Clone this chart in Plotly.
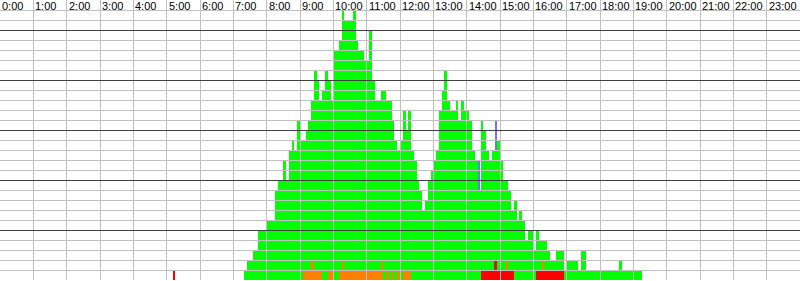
import plotly.graph_objects as go

# ---- data (counts per 5-minute bin) ----
BIN_MINUTES = 5
FIRST_BIN = "07:20"
total_counts = [
    1, 2, 2, 3, 3, 5, 5, 5,                       # 07:20 - 07:55
    6, 6, 6, 9, 10, 10, 12, 10, 13, 14, 13, 16,   # 08:00 - 08:55
    14, 14, 15, 16, 18, 21, 20, 18, 19, 21, 20, 18,  # 09
    23, 23, 24, 27, 26, 26, 26, 27, 24, 23, 23, 22,  # 10
    22, 25, 20, 18, 18, 19, 19, 18, 18, 16, 14, 13,  # 11
    14, 17, 15, 17, 13, 12, 10, 9, 7, 8, 10, 11,     # 12
    12, 13, 17, 19, 21, 18, 17, 17, 18, 16, 18, 17,  # 13
    17, 16, 13, 12, 12, 16, 15, 13, 12, 13, 16, 14,  # 14
    12, 10, 10, 9, 7, 8, 6, 7, 6, 4, 5, 5,           # 15
    3, 5, 4, 4, 4, 3, 2, 2, 3, 3, 3, 1,              # 16
    2, 2, 2, 2, 1, 3, 3, 1, 1, 1, 1, 1,              # 17
    1, 1, 1, 1, 1, 1, 1, 2, 1, 1, 1, 1,              # 18
    1, 1, 1,                                          # 19:00 - 19:10
]
extra_total = {"05:10": 1}

red_counts = {
    "05:10": 1,
    "14:25": 1, "14:30": 1, "14:35": 1, "14:40": 1, "14:45": 1, "14:50": 2,
    "14:55": 1, "15:00": 1, "15:05": 1, "15:10": 1, "15:15": 1, "15:20": 1,
    "16:05": 1, "16:10": 1, "16:15": 1, "16:20": 1, "16:25": 1,
    "16:30": 1, "16:35": 1, "16:40": 1, "16:45": 1, "16:50": 1,
}
orange_counts = {
    "09:05": 1, "09:10": 1, "09:15": 1, "09:20": 2, "09:25": 1, "09:30": 1, "09:35": 1,
    "09:50": 1, "09:55": 1,
    "10:10": 1, "10:15": 2, "10:20": 1, "10:25": 1, "10:30": 1, "10:35": 1,
    "10:40": 1, "10:45": 1, "10:50": 1, "10:55": 1,
    "11:00": 1, "11:05": 1, "11:10": 1, "11:15": 1, "11:20": 1, "11:25": 2,
    "11:35": 1, "11:45": 1, "11:55": 1,
    "12:05": 1, "12:10": 1, "12:15": 1,
    "15:10": 1, "16:15": 1,
}
blue_counts = {"14:20": 3, "14:50": 3}

hour_labels = ["0:00", "1:00", "2:00", "3:00", "4:00", "5:00", "6:00", "7:00",
               "8:00", "9:00", "10:00", "11:00", "12:00", "13:00", "14:00", "15:00",
               "16:00", "17:00", "18:00", "19:00", "20:00", "21:00", "22:00", "23:00"]


def to_min(s):
    h, m = s.split(":")
    return int(h) * 60 + int(m)


totals = {}
start = to_min(FIRST_BIN)
for i, c in enumerate(total_counts):
    totals[start + i * BIN_MINUTES] = c
for k, v in extra_total.items():
    totals[to_min(k)] = v

bins = sorted(totals)
red = {to_min(k): v for k, v in red_counts.items()}
orange = {to_min(k): v for k, v in orange_counts.items()}
blue = {to_min(k): v for k, v in blue_counts.items()}
isolated = {to_min(k) for k in extra_total}

x = [(b + BIN_MINUTES / 2) / 60 for b in bins]
r_vals = [red.get(b, 0) for b in bins]
o_vals = [orange.get(b, 0) for b in bins]
b_vals = [blue.get(b, 0) for b in bins]
g_vals = [totals[b] - r_vals[i] - o_vals[i] - b_vals[i] for i, b in enumerate(bins)]

bw = BIN_MINUTES / 60
widths = [0.03 if b in isolated else bw for b in bins]
fig = go.Figure()
for vals, col, w in [(r_vals, "#FF0000", widths), (o_vals, "#FF8000", bw),
                     (g_vals, "#00FF00", bw), (b_vals, "#7070FF", 0.05)]:
    fig.add_trace(go.Bar(x=x, y=vals, width=w, marker=dict(color=col, line=dict(width=0)),
                         hoverinfo="skip", showlegend=False))

fig.update_layout(
    width=800, height=281,
    margin=dict(l=0, r=0, t=0, b=1, pad=0),
    paper_bgcolor="white", plot_bgcolor="white",
    barmode="stack", bargap=0, showlegend=False,
)
fig.update_xaxes(
    range=[0, 24], showgrid=False, zeroline=False, showline=False,
    showticklabels=False, ticks="inside", ticklen=290, tickwidth=1,
    tickcolor="#C0C0C0", tickvals=list(range(1, 24)), layer="above traces",
)
fig.update_yaxes(
    range=[0, 28], showgrid=False, zeroline=False, showline=False,
    showticklabels=False, ticks="inside", ticklen=810, tickwidth=1,
    tickcolor="#404040", tickvals=[0, 5, 10, 15, 20, 25], layer="above traces",
    minor=dict(ticks="inside", ticklen=810, tickwidth=1, tickcolor="#C0C0C0",
               tickvals=[v for v in range(1, 28) if v % 5 != 0]),
)

for h, lab in enumerate(hour_labels):
    fig.add_annotation(x=h, y=1, xref="x", yref="paper", text=lab, showarrow=False,
                       xanchor="left", yanchor="top", xshift=0, yshift=2,
                       font=dict(family="Liberation Sans", size=11, color="black"))

fig.write_html("out.html")
